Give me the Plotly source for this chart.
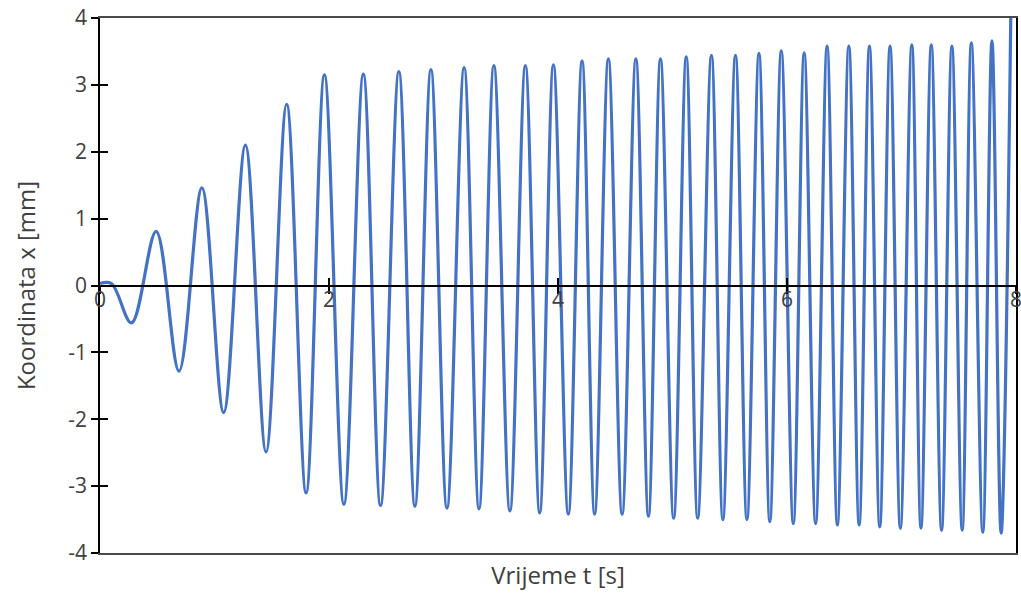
import plotly.graph_objects as go

# turning points of the response (time in s, coordinate in mm)
t_s = [
    0.00, 0.10, 0.275, 0.49, 0.69, 0.89, 1.08, 1.27, 1.45, 1.63, 1.80, 1.96,
    2.13, 2.30, 2.45, 2.61, 2.75, 2.89, 3.03, 3.18, 3.31, 3.44, 3.58, 3.715,
    3.84, 3.96, 4.09, 4.21, 4.32, 4.44, 4.56, 4.68, 4.79, 4.895, 5.01, 5.12,
    5.22, 5.34, 5.44, 5.55, 5.65, 5.755, 5.85, 5.95, 6.055, 6.15, 6.25, 6.35,
    6.44, 6.54, 6.63, 6.72, 6.81, 6.90, 6.99, 7.09, 7.17, 7.26, 7.35, 7.44,
    7.53, 7.61, 7.71, 7.79, 7.87, 7.96,
]
x_mm = [
    0.03, 0.03, -0.56, 0.81, -1.28, 1.46, -1.90, 2.10, -2.49, 2.71, -3.10, 3.15,
    -3.27, 3.16, -3.29, 3.20, -3.30, 3.23, -3.33, 3.26, -3.34, 3.29, -3.37, 3.29,
    -3.40, 3.30, -3.42, 3.36, -3.42, 3.39, -3.42, 3.39, -3.45, 3.39, -3.48, 3.42,
    -3.48, 3.44, -3.50, 3.44, -3.50, 3.47, -3.53, 3.51, -3.56, 3.48, -3.56, 3.58,
    -3.58, 3.58, -3.58, 3.58, -3.61, 3.58, -3.63, 3.60, -3.63, 3.60, -3.66, 3.58,
    -3.66, 3.63, -3.69, 3.66, -3.70, 4.80,
]

x_ticks = [0, 2, 4, 6, 8]
y_ticks = [-4, -3, -2, -1, 0, 1, 2, 3, 4]
y_tick_text = ["-4", "-3", "-2", "-1", "0", "1", "2", "3", "4"]

tick_font = dict(family="Open Sans", size=21, color="#404040")
title_font = dict(family="Open Sans", size=24, color="#404040")

fig = go.Figure()
fig.add_trace(go.Scatter(
    x=t_s, y=x_mm, mode="lines",
    line=dict(color="#4472C4", width=3.2, shape="spline", smoothing=1.0),
    showlegend=False, hoverinfo="skip",
))
# empty traces so the helper axes (zero-crossing x axis, cross ticks) get drawn
for xa, ya in [("x2", "y"), ("x3", "y"), ("x", "y2")]:
    fig.add_trace(go.Scatter(x=[], y=[], xaxis=xa, yaxis=ya,
                             showlegend=False, hoverinfo="skip"))

fig.update_layout(
    width=1021, height=595,
    margin=dict(l=100, r=5, t=18, b=42, autoexpand=False),
    plot_bgcolor="white", paper_bgcolor="white",
    font=tick_font,
    # plot area frame + axis title at the bottom
    xaxis=dict(
        range=[0, 8], showgrid=False, zeroline=False, automargin=False,
        showline=True, mirror=True, linecolor="#4a4a4a", linewidth=1.5,
        showticklabels=False, ticks="",
        title=dict(text="Vrijeme t [s]", standoff=13, font=title_font),
    ),
    # x axis crossing at y = 0, labels just below it
    xaxis2=dict(
        range=[0, 8], overlaying="x", anchor="free", position=0.5,
        showgrid=False, zeroline=False, showline=True, automargin=False,
        linecolor="black", linewidth=1.5, layer="above traces",
        tickvals=x_ticks, ticks="outside", ticklen=8, tickwidth=1.5,
        tickcolor="black", tickfont=tick_font, ticklabelstandoff=-12,
        ticklabeloverflow="allow",
    ),
    # upper half of the cross ticks
    xaxis3=dict(
        range=[0, 8], overlaying="x", anchor="free", position=0.5,
        showgrid=False, zeroline=False, showline=False, automargin=False,
        layer="above traces",
        tickvals=x_ticks, ticks="inside", ticklen=8, tickwidth=1.5,
        tickcolor="black", showticklabels=False,
    ),
    yaxis=dict(
        range=[-4, 4], showgrid=False, zeroline=False, automargin=False,
        showline=True, mirror=True, linecolor="black", linewidth=1.5,
        tickvals=y_ticks, ticktext=y_tick_text,
        ticks="outside", ticklen=7, tickwidth=1.5, tickcolor="black",
        tickfont=tick_font, ticklabeloverflow="allow",
        title=dict(text="Koordinata x [mm]", standoff=26, font=title_font),
    ),
    yaxis2=dict(
        range=[-4, 4], overlaying="y", anchor="x", automargin=False,
        showgrid=False, zeroline=False, showline=False, layer="above traces",
        tickvals=y_ticks, ticks="inside", ticklen=8, tickwidth=1.5,
        tickcolor="black", showticklabels=False,
    ),
)

# drop the page's default body margin so the figure fills the window exactly
fig.write_html("out.html", config={"displayModeBar": False},
               post_script="document.body.style.margin = '0';")
